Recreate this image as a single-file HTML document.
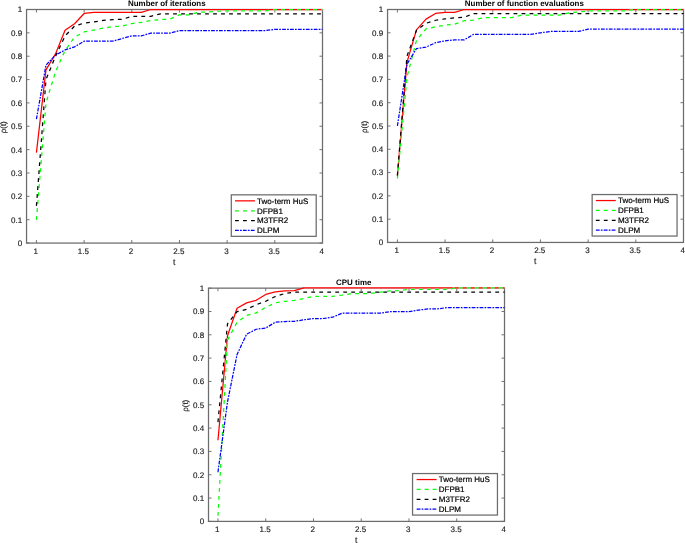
<!DOCTYPE html>
<html>
<head>
<meta charset="utf-8">
<title>Performance profiles</title>
<style>
html,body{margin:0;padding:0;background:#fff;}
body{width:685px;height:543px;overflow:hidden;font-family:"Liberation Sans",sans-serif;}
svg{display:block;will-change:transform;}
text{text-rendering:geometricPrecision;}
</style>
</head>
<body>
<svg width="685" height="543" viewBox="0 0 685 543" font-family="'Liberation Sans', sans-serif">
<rect width="685" height="543" fill="#fff"/>
<g stroke="#6c6c6c" stroke-width="1.25" fill="none">
<rect x="26.55" y="9.5" width="295.95" height="233.55"/>
<path d="M36.43 243.05V240.05M36.43 9.5V12.5M84.11 243.05V240.05M84.11 9.5V12.5M131.79 243.05V240.05M131.79 9.5V12.5M179.47 243.05V240.05M179.47 9.5V12.5M227.14 243.05V240.05M227.14 9.5V12.5M274.82 243.05V240.05M274.82 9.5V12.5M322.5 243.05V240.05M322.5 9.5V12.5M26.55 243.05H29.55M322.5 243.05H319.5M26.55 219.69H29.55M322.5 219.69H319.5M26.55 196.34H29.55M322.5 196.34H319.5M26.55 172.99H29.55M322.5 172.99H319.5M26.55 149.63H29.55M322.5 149.63H319.5M26.55 126.28H29.55M322.5 126.28H319.5M26.55 102.92H29.55M322.5 102.92H319.5M26.55 79.57H29.55M322.5 79.57H319.5M26.55 56.21H29.55M322.5 56.21H319.5M26.55 32.85H29.55M322.5 32.85H319.5M26.55 9.5H29.55M322.5 9.5H319.5" stroke-width="0.95"/>
</g>
<clipPath id="c1"><rect x="26.55" y="7.5" width="297.45" height="236.55"/></clipPath>
<g clip-path="url(#c1)" fill="none" stroke-width="1.25" stroke-linejoin="round">
<line x1="150.86" y1="9.5" x2="322.5" y2="9.5" stroke="#fff" stroke-width="1.25"/>
<polyline points="36.43,152.59 45.97,69.82 55.5,53.92 65.04,30.31 74.57,23.76 84.11,13.47 93.64,12.31 103.18,12.31 112.72,12.31 122.25,12.31 131.79,12.31 141.32,12.31 150.86,9.5 322.5,9.5" stroke="#ff0000"/>
<polyline points="36.43,219.92 45.97,103.02 55.5,71.69 65.04,50.65 74.57,37.09 84.11,31.94 93.64,30.07 103.18,28.2 112.72,26.57 122.25,26.1 131.79,23.53 141.32,22.36 150.86,20.49 160.39,19.55 169.93,19.09 179.47,14.88 189,14.88 198.54,12.31 208.07,12.07 217.61,11.14 227.14,10.9 236.68,10.9 246.21,10.9 255.75,10.9 265.29,10.9 274.82,9.5 322.5,9.5" stroke="#fff" stroke-dasharray="3.8 4.2"/>
<polyline points="36.43,219.92 45.97,103.02 55.5,71.69 65.04,50.65 74.57,37.09 84.11,31.94 93.64,30.07 103.18,28.2 112.72,26.57 122.25,26.1 131.79,23.53 141.32,22.36 150.86,20.49 160.39,19.55 169.93,19.09 179.47,14.88 189,14.88 198.54,12.31 208.07,12.07 217.61,11.14 227.14,10.9 236.68,10.9 246.21,10.9 255.75,10.9 265.29,10.9 274.82,9.5 322.5,9.5" stroke="#00ff00" stroke-dasharray="3.8 4.2"/>
<polyline points="36.43,205.89 45.97,79.64 55.5,56.26 65.04,35.92 74.57,26.1 84.11,23.06 93.64,21.89 103.18,20.49 112.72,19.55 122.25,19.32 131.79,16.28 141.32,16.28 150.86,16.28 160.39,13.94 322.5,13.94" stroke="#000000" stroke-dasharray="3.8 4.2"/>
<polyline points="36.43,119.15 45.97,65.14 55.5,55.09 65.04,49.95 74.57,46.91 84.11,41.18 93.64,41.18 103.18,41.18 112.72,41.18 122.25,38.49 131.79,35.92 141.32,35.92 150.86,33.11 160.39,33.11 169.93,33.11 179.47,30.54 189,30.54 198.54,30.54 208.07,30.54 217.61,30.54 227.14,30.54 236.68,30.54 246.21,30.54 255.75,30.54 265.29,30.54 274.82,29.35 322.5,29.35" stroke="#0000ff" stroke-dasharray="3.8 1.2 1.7 1.2"/>
</g>
<g font-size="8.0" fill="#1a1a1a" stroke="#1a1a1a" stroke-width="0.15">
<text x="35.73" y="253.65" text-anchor="middle">1</text>
<text x="83.41" y="253.65" text-anchor="middle">1.5</text>
<text x="131.09" y="253.65" text-anchor="middle">2</text>
<text x="178.77" y="253.65" text-anchor="middle">2.5</text>
<text x="226.44" y="253.65" text-anchor="middle">3</text>
<text x="274.12" y="253.65" text-anchor="middle">3.5</text>
<text x="321.8" y="253.65" text-anchor="middle">4</text>
<text x="22.15" y="245.95" text-anchor="end">0</text>
<text x="22.15" y="222.59" text-anchor="end">0.1</text>
<text x="22.15" y="199.24" text-anchor="end">0.2</text>
<text x="22.15" y="175.89" text-anchor="end">0.3</text>
<text x="22.15" y="152.53" text-anchor="end">0.4</text>
<text x="22.15" y="129.18" text-anchor="end">0.5</text>
<text x="22.15" y="105.82" text-anchor="end">0.6</text>
<text x="22.15" y="82.47" text-anchor="end">0.7</text>
<text x="22.15" y="59.11" text-anchor="end">0.8</text>
<text x="22.15" y="35.75" text-anchor="end">0.9</text>
<text x="22.15" y="12.4" text-anchor="end">1</text>
<text x="174.22" y="264.55" font-size="8.6" text-anchor="middle">t</text>
<text transform="translate(6.35 127.28) rotate(-90)" text-anchor="middle">ρ(t)</text>
</g>
<text x="128" y="6.1" font-size="7.95" font-weight="bold" fill="#000">Number of iterations</text>
<rect x="231.3" y="194.85" width="84.9" height="41.5" fill="#fff" stroke="#6c6c6c" stroke-width="1.25"/>
<line x1="235" y1="200.85" x2="254.95" y2="200.85" stroke="#ff0000" stroke-width="1.25"/>
<text x="257.1" y="203.75" font-size="8.0" fill="#000" stroke="#000" stroke-width="0.2">Two-term HuS</text>
<line x1="235" y1="210.75" x2="254.95" y2="210.75" stroke="#00ff00" stroke-width="1.25" stroke-dasharray="3.8 4.2"/>
<text x="257.1" y="213.65" font-size="8.0" fill="#000" stroke="#000" stroke-width="0.2">DFPB1</text>
<line x1="235" y1="220.55" x2="254.95" y2="220.55" stroke="#000000" stroke-width="1.25" stroke-dasharray="3.8 4.2"/>
<text x="257.1" y="223.45" font-size="8.0" fill="#000" stroke="#000" stroke-width="0.2">M3TFR2</text>
<line x1="235" y1="230.45" x2="254.95" y2="230.45" stroke="#0000ff" stroke-width="1.25" stroke-dasharray="3.8 1.2 1.7 1.2"/>
<text x="257.1" y="233.35" font-size="8.0" fill="#000" stroke="#000" stroke-width="0.2">DLPM</text>
<g stroke="#6c6c6c" stroke-width="1.25" fill="none">
<rect x="387.55" y="9.5" width="295.95" height="232.95"/>
<path d="M397.4 242.45V239.45M397.4 9.5V12.5M445.08 242.45V239.45M445.08 9.5V12.5M492.77 242.45V239.45M492.77 9.5V12.5M540.45 242.45V239.45M540.45 9.5V12.5M588.13 242.45V239.45M588.13 9.5V12.5M635.82 242.45V239.45M635.82 9.5V12.5M683.5 242.45V239.45M683.5 9.5V12.5M387.55 242.45H390.55M683.5 242.45H680.5M387.55 219.15H390.55M683.5 219.15H680.5M387.55 195.86H390.55M683.5 195.86H680.5M387.55 172.56H390.55M683.5 172.56H680.5M387.55 149.27H390.55M683.5 149.27H680.5M387.55 125.97H390.55M683.5 125.97H680.5M387.55 102.68H390.55M683.5 102.68H680.5M387.55 79.39H390.55M683.5 79.39H680.5M387.55 56.09H390.55M683.5 56.09H680.5M387.55 32.79H390.55M683.5 32.79H680.5M387.55 9.5H390.55M683.5 9.5H680.5" stroke-width="0.95"/>
</g>
<clipPath id="c2"><rect x="387.55" y="7.5" width="297.45" height="235.95"/></clipPath>
<g clip-path="url(#c2)" fill="none" stroke-width="1.25" stroke-linejoin="round">
<line x1="464.16" y1="9.5" x2="683.5" y2="9.5" stroke="#fff" stroke-width="1.25"/>
<polyline points="397.4,175.5 406.94,62.34 416.47,29.84 426.01,19.09 435.55,13.47 445.08,12.31 454.62,12.31 464.16,9.5 683.5,9.5" stroke="#ff0000"/>
<polyline points="397.4,178.54 406.94,77.3 416.47,40.36 426.01,28.91 435.55,26.8 445.08,25.16 454.62,24.23 464.16,20.72 473.69,20.02 483.23,17.68 492.77,17.68 502.3,17.68 511.84,17.68 521.38,15.11 530.91,15.11 540.45,15.11 549.99,15.11 559.52,15.11 569.06,12.77 578.6,12.07 588.13,10.9 597.67,10.9 607.21,10.9 616.74,10.9 626.28,10.9 635.82,9.5 683.5,9.5" stroke="#fff" stroke-dasharray="3.8 4.2"/>
<polyline points="397.4,178.54 406.94,77.3 416.47,40.36 426.01,28.91 435.55,26.8 445.08,25.16 454.62,24.23 464.16,20.72 473.69,20.02 483.23,17.68 492.77,17.68 502.3,17.68 511.84,17.68 521.38,15.11 530.91,15.11 540.45,15.11 549.99,15.11 559.52,15.11 569.06,12.77 578.6,12.07 588.13,10.9 597.67,10.9 607.21,10.9 616.74,10.9 626.28,10.9 635.82,9.5 683.5,9.5" stroke="#00ff00" stroke-dasharray="3.8 4.2"/>
<polyline points="397.4,175.5 406.94,56.26 416.47,30.31 426.01,23.29 435.55,20.25 445.08,18.85 454.62,17.92 464.16,17.22 473.69,13.59 683.5,13.59" stroke="#000000" stroke-dasharray="3.8 4.2"/>
<polyline points="397.4,125.93 406.94,64.21 416.47,48.54 426.01,47.14 435.55,42.7 445.08,40.83 454.62,39.89 464.16,39.89 473.69,34.28 483.23,34.28 492.77,34.28 502.3,34.28 511.84,34.28 521.38,34.28 530.91,34.28 540.45,32.88 549.99,31.48 559.52,31.48 569.06,31.48 578.6,31.48 588.13,29.02 683.5,29.02" stroke="#0000ff" stroke-dasharray="3.8 1.2 1.7 1.2"/>
</g>
<g font-size="8.0" fill="#1a1a1a" stroke="#1a1a1a" stroke-width="0.15">
<text x="396.7" y="253.05" text-anchor="middle">1</text>
<text x="444.38" y="253.05" text-anchor="middle">1.5</text>
<text x="492.07" y="253.05" text-anchor="middle">2</text>
<text x="539.75" y="253.05" text-anchor="middle">2.5</text>
<text x="587.43" y="253.05" text-anchor="middle">3</text>
<text x="635.12" y="253.05" text-anchor="middle">3.5</text>
<text x="682.8" y="253.05" text-anchor="middle">4</text>
<text x="383.15" y="245.35" text-anchor="end">0</text>
<text x="383.15" y="222.05" text-anchor="end">0.1</text>
<text x="383.15" y="198.76" text-anchor="end">0.2</text>
<text x="383.15" y="175.47" text-anchor="end">0.3</text>
<text x="383.15" y="152.17" text-anchor="end">0.4</text>
<text x="383.15" y="128.88" text-anchor="end">0.5</text>
<text x="383.15" y="105.58" text-anchor="end">0.6</text>
<text x="383.15" y="82.29" text-anchor="end">0.7</text>
<text x="383.15" y="58.99" text-anchor="end">0.8</text>
<text x="383.15" y="35.69" text-anchor="end">0.9</text>
<text x="383.15" y="12.4" text-anchor="end">1</text>
<text x="535.23" y="263.95" font-size="8.6" text-anchor="middle">t</text>
<text transform="translate(367.35 126.97) rotate(-90)" text-anchor="middle">ρ(t)</text>
</g>
<text x="464.8" y="6.1" font-size="7.95" font-weight="bold" fill="#000">Number of function evaluations</text>
<rect x="592.15" y="194.55" width="84.9" height="41.5" fill="#fff" stroke="#6c6c6c" stroke-width="1.25"/>
<line x1="595.85" y1="200.55" x2="615.8" y2="200.55" stroke="#ff0000" stroke-width="1.25"/>
<text x="617.95" y="203.45" font-size="8.0" fill="#000" stroke="#000" stroke-width="0.2">Two-term HuS</text>
<line x1="595.85" y1="210.45" x2="615.8" y2="210.45" stroke="#00ff00" stroke-width="1.25" stroke-dasharray="3.8 4.2"/>
<text x="617.95" y="213.35" font-size="8.0" fill="#000" stroke="#000" stroke-width="0.2">DFPB1</text>
<line x1="595.85" y1="220.25" x2="615.8" y2="220.25" stroke="#000000" stroke-width="1.25" stroke-dasharray="3.8 4.2"/>
<text x="617.95" y="223.15" font-size="8.0" fill="#000" stroke="#000" stroke-width="0.2">M3TFR2</text>
<line x1="595.85" y1="230.15" x2="615.8" y2="230.15" stroke="#0000ff" stroke-width="1.25" stroke-dasharray="3.8 1.2 1.7 1.2"/>
<text x="617.95" y="233.05" font-size="8.0" fill="#000" stroke="#000" stroke-width="0.2">DLPM</text>
<g stroke="#6c6c6c" stroke-width="1.25" fill="none">
<rect x="208.5" y="288.15" width="296" height="233.25"/>
<path d="M217.96 521.4V518.4M217.96 288.15V291.15M265.72 521.4V518.4M265.72 288.15V291.15M313.47 521.4V518.4M313.47 288.15V291.15M361.23 521.4V518.4M361.23 288.15V291.15M408.99 521.4V518.4M408.99 288.15V291.15M456.74 521.4V518.4M456.74 288.15V291.15M504.5 521.4V518.4M504.5 288.15V291.15M208.5 521.4H211.5M504.5 521.4H501.5M208.5 498.07H211.5M504.5 498.07H501.5M208.5 474.75H211.5M504.5 474.75H501.5M208.5 451.42H211.5M504.5 451.42H501.5M208.5 428.1H211.5M504.5 428.1H501.5M208.5 404.77H211.5M504.5 404.77H501.5M208.5 381.45H211.5M504.5 381.45H501.5M208.5 358.12H211.5M504.5 358.12H501.5M208.5 334.8H211.5M504.5 334.8H501.5M208.5 311.47H211.5M504.5 311.47H501.5M208.5 288.15H211.5M504.5 288.15H501.5" stroke-width="0.95"/>
</g>
<clipPath id="c3"><rect x="208.5" y="286.15" width="297.5" height="236.25"/></clipPath>
<g clip-path="url(#c3)" fill="none" stroke-width="1.25" stroke-linejoin="round">
<line x1="303.92" y1="287.9" x2="504.5" y2="287.9" stroke="#fff" stroke-width="1.25"/>
<polyline points="217.96,440.21 227.51,335.79 237.06,308.22 246.61,302.85 256.17,300.28 265.72,294.44 275.27,291.87 284.82,290.94 294.37,290.7 303.92,287.9 504.5,287.9" stroke="#ff0000"/>
<polyline points="217.96,515.71 227.51,339.99 237.06,322.24 246.61,315.46 256.17,312.9 265.72,307.29 275.27,302.85 284.82,301.45 294.37,300.28 303.92,298.53 313.47,296.31 323.02,296.31 332.58,296.31 342.13,295.14 351.68,293.51 361.23,293.51 370.78,293.51 380.33,292.1 389.88,290.94 399.44,290.7 408.99,289.3 418.54,289.3 428.09,289.3 437.64,289.3 447.19,289.3 456.74,287.9 504.5,287.9" stroke="#fff" stroke-dasharray="3.8 4.2"/>
<polyline points="217.96,515.71 227.51,339.99 237.06,322.24 246.61,315.46 256.17,312.9 265.72,307.29 275.27,302.85 284.82,301.45 294.37,300.28 303.92,298.53 313.47,296.31 323.02,296.31 332.58,296.31 342.13,295.14 351.68,293.51 361.23,293.51 370.78,293.51 380.33,292.1 389.88,290.94 399.44,290.7 408.99,289.3 418.54,289.3 428.09,289.3 437.64,289.3 447.19,289.3 456.74,287.9 504.5,287.9" stroke="#00ff00" stroke-dasharray="3.8 4.2"/>
<polyline points="217.96,422.1 227.51,323.87 237.06,311.73 246.61,309.39 256.17,304.72 265.72,301.22 275.27,296.54 284.82,293.51 294.37,292.1 504.5,292.1" stroke="#000000" stroke-dasharray="3.8 4.2"/>
<polyline points="217.96,472.21 227.51,401.78 237.06,354.48 246.61,334.15 256.17,329.25 265.72,328.08 275.27,322.24 284.82,321.54 294.37,321.3 303.92,319.79 313.47,318.5 323.02,318.5 332.58,317.22 342.13,313.13 351.68,313.13 361.23,313.13 370.78,313.13 380.33,313.13 389.88,311.61 399.44,311.61 408.99,311.61 418.54,310.09 428.09,308.92 437.64,308.92 447.19,307.52 504.5,307.52" stroke="#0000ff" stroke-dasharray="3.8 1.2 1.7 1.2"/>
</g>
<g font-size="8.0" fill="#1a1a1a" stroke="#1a1a1a" stroke-width="0.15">
<text x="217.26" y="532" text-anchor="middle">1</text>
<text x="265.02" y="532" text-anchor="middle">1.5</text>
<text x="312.77" y="532" text-anchor="middle">2</text>
<text x="360.53" y="532" text-anchor="middle">2.5</text>
<text x="408.29" y="532" text-anchor="middle">3</text>
<text x="456.04" y="532" text-anchor="middle">3.5</text>
<text x="503.8" y="532" text-anchor="middle">4</text>
<text x="204.1" y="524.3" text-anchor="end">0</text>
<text x="204.1" y="500.97" text-anchor="end">0.1</text>
<text x="204.1" y="477.65" text-anchor="end">0.2</text>
<text x="204.1" y="454.32" text-anchor="end">0.3</text>
<text x="204.1" y="431" text-anchor="end">0.4</text>
<text x="204.1" y="407.67" text-anchor="end">0.5</text>
<text x="204.1" y="384.35" text-anchor="end">0.6</text>
<text x="204.1" y="361.02" text-anchor="end">0.7</text>
<text x="204.1" y="337.7" text-anchor="end">0.8</text>
<text x="204.1" y="314.37" text-anchor="end">0.9</text>
<text x="204.1" y="291.05" text-anchor="end">1</text>
<text x="356.2" y="542.9" font-size="8.6" text-anchor="middle">t</text>
<text transform="translate(188.3 405.77) rotate(-90)" text-anchor="middle">ρ(t)</text>
</g>
<text x="336.1" y="284.75" font-size="7.95" font-weight="bold" fill="#000">CPU time</text>
<rect x="412.55" y="473.55" width="84.9" height="41.5" fill="#fff" stroke="#6c6c6c" stroke-width="1.25"/>
<line x1="416.65" y1="479.55" x2="436.6" y2="479.55" stroke="#ff0000" stroke-width="1.25"/>
<text x="438.75" y="482.45" font-size="8.0" fill="#000" stroke="#000" stroke-width="0.2">Two-term HuS</text>
<line x1="416.65" y1="489.45" x2="436.6" y2="489.45" stroke="#00ff00" stroke-width="1.25" stroke-dasharray="3.8 4.2"/>
<text x="438.75" y="492.35" font-size="8.0" fill="#000" stroke="#000" stroke-width="0.2">DFPB1</text>
<line x1="416.65" y1="499.25" x2="436.6" y2="499.25" stroke="#000000" stroke-width="1.25" stroke-dasharray="3.8 4.2"/>
<text x="438.75" y="502.15" font-size="8.0" fill="#000" stroke="#000" stroke-width="0.2">M3TFR2</text>
<line x1="416.65" y1="509.15" x2="436.6" y2="509.15" stroke="#0000ff" stroke-width="1.25" stroke-dasharray="3.8 1.2 1.7 1.2"/>
<text x="438.75" y="512.05" font-size="8.0" fill="#000" stroke="#000" stroke-width="0.2">DLPM</text>
</svg>
</body>
</html>
